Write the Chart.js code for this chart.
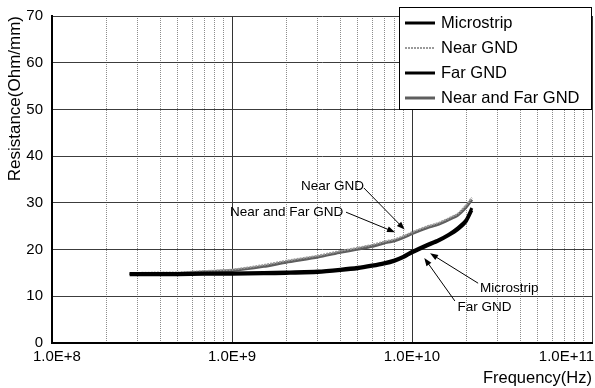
<!DOCTYPE html>
<html>
<head>
<meta charset="utf-8">
<script src="https://cdn.jsdelivr.net/npm/chart.js@4.4.1/dist/chart.umd.min.js"></script>
<style>
  html, body { margin: 0; padding: 0; background: #fff; overflow: hidden; }
  #wrap { position: relative; width: 595px; height: 388px; }
</style>
</head>
<body>
<div id="wrap"><canvas id="resistanceChart"></canvas></div>
<script>
// Measured frequency points (Hz), shared by all four traces
const frequencies = [
  2.7e8, 3e8, 4e8, 5e8, 7e8, 1e9, 1.5e9, 2e9, 3e9, 4e9, 5e9,
  6e9, 7e9, 8e9, 9e9, 1e10, 1.2e10, 1.4e10, 1.6e10, 1.8e10, 2e10, 2.15e10,
];

// Resistance per unit length (Ohm/mm)
const microstrip = [
  14.9, 14.9, 14.9, 14.9, 15.0, 15.0, 15.1, 15.2, 15.4, 15.8, 16.2,
  16.7, 17.2, 17.8, 18.6, 19.6, 21.0, 22.1, 23.3, 24.7, 26.4, 28.9,
];
const nearGnd = [
  15.0, 15.0, 15.1, 15.1, 15.4, 15.7, 16.7, 17.6, 18.7, 19.7, 20.4,
  21.0, 21.7, 22.2, 22.9, 23.7, 24.9, 25.7, 26.7, 27.7, 29.5, 31.1,
];
const farGnd = [
  14.6, 14.6, 14.6, 14.6, 14.7, 14.7, 14.8, 14.9, 15.1, 15.5, 15.9,
  16.4, 16.9, 17.5, 18.3, 19.3, 20.7, 21.8, 23.0, 24.3, 26.0, 28.4,
];
const nearFarGnd = [
  14.8, 14.8, 14.9, 14.9, 15.2, 15.5, 16.4, 17.3, 18.4, 19.4, 20.1,
  20.7, 21.4, 21.9, 22.6, 23.4, 24.6, 25.4, 26.4, 27.4, 29.1, 30.7,
];

const seriesLabels = ["Microstrip", "Near GND", "Far GND", "Near and Far GND"];

// Axis ticks
const decadeValues = [1e8, 1e9, 1e10, 1e11];
const decadeLabels = ["1.0E+8", "1.0E+9", "1.0E+10", "1.0E+11"];
const minorSteps = [2, 3, 4, 5, 6, 7, 8, 9];
const yTicks = [0, 10, 20, 30, 40, 50, 60, 70];

// Callout labels with arrows, in data units (Hz, Ohm/mm)
const callouts = [
  { text: "Near GND", x: 2.42e9, y: 33.6, fromX: 5.4e9, fromY: 33.2, toX: 9.1e9, toY: 24.3 },
  { text: "Near and Far GND", x: 9.75e8, y: 28.0, fromX: 4.3e9, fromY: 28.0, toX: 8.05e9, toY: 23.7 },
  { text: "Microstrip", x: 2.39e10, y: 11.8, fromX: 2.33e10, fromY: 12.8, toX: 1.26e10, toY: 19.2 },
  { text: "Far GND", x: 1.79e10, y: 7.6, fromX: 1.73e10, fromY: 9.0, toX: 1.17e10, toY: 18.2 },
];

const FONT_FAMILY = '"Liberation Sans", Arial, sans-serif';

const xTickValues = [];
decadeValues.forEach((d, i) => {
  xTickValues.push(d);
  if (i < decadeValues.length - 1) minorSteps.forEach((m) => xTickValues.push(m * d));
});

function isDecade(v) {
  const l = Math.log10(v);
  return Math.abs(l - Math.round(l)) < 1e-9;
}

function toPoints(values) {
  return frequencies.map((f, i) => ({ x: f, y: values[i] }));
}

function drawArrow(ctx, x1, y1, x2, y2) {
  const ang = Math.atan2(y2 - y1, x2 - x1);
  const len = 8;
  const half = 3;
  ctx.beginPath();
  ctx.moveTo(x1, y1);
  ctx.lineTo(x2 - Math.cos(ang) * len * 0.8, y2 - Math.sin(ang) * len * 0.8);
  ctx.stroke();
  ctx.beginPath();
  ctx.moveTo(x2, y2);
  ctx.lineTo(x2 - Math.cos(ang) * len + Math.sin(ang) * half, y2 - Math.sin(ang) * len - Math.cos(ang) * half);
  ctx.lineTo(x2 - Math.cos(ang) * len - Math.sin(ang) * half, y2 - Math.sin(ang) * len + Math.cos(ang) * half);
  ctx.closePath();
  ctx.fill();
}

// Decade labels under the x axis, kept inside the canvas at both ends
const xLabelPlugin = {
  id: "xLabels",
  afterDraw(chart) {
    const { ctx, width } = chart;
    const xs = chart.scales.x;
    ctx.save();
    ctx.fillStyle = "#000";
    ctx.font = "15px " + FONT_FAMILY;
    ctx.textBaseline = "middle";
    ctx.textAlign = "left";
    decadeValues.forEach((v, i) => {
      const w = ctx.measureText(decadeLabels[i]).width;
      let left = xs.getPixelForValue(v) - w / 2;
      left = Math.max(33, Math.min(left, width - 1 - w));
      ctx.fillText(decadeLabels[i], left, xs.bottom - 45 + 14);
    });
    ctx.restore();
  },
};

// Text callouts pointing at the curves
const calloutPlugin = {
  id: "callouts",
  afterDatasetsDraw(chart) {
    const { ctx } = chart;
    const xs = chart.scales.x;
    const ys = chart.scales.y;
    ctx.save();
    ctx.fillStyle = "#000";
    ctx.strokeStyle = "#000";
    ctx.lineWidth = 1;
    ctx.font = "13.5px " + FONT_FAMILY;
    ctx.textBaseline = "middle";
    ctx.textAlign = "left";
    callouts.forEach((c) => {
      ctx.fillText(c.text, xs.getPixelForValue(c.x), ys.getPixelForValue(c.y));
      drawArrow(
        ctx,
        xs.getPixelForValue(c.fromX),
        ys.getPixelForValue(c.fromY),
        xs.getPixelForValue(c.toX),
        ys.getPixelForValue(c.toY),
      );
    });
    ctx.restore();
  },
};

// Boxed legend in the top-right corner
const boxLegendPlugin = {
  id: "boxLegend",
  afterDraw(chart) {
    const { ctx, chartArea } = chart;
    const boxW = 192;
    const boxH = 102;
    const left = chartArea.right - boxW - 1;
    const top = 7;
    ctx.save();
    ctx.fillStyle = "#fff";
    ctx.fillRect(left, top, boxW, boxH);
    ctx.strokeStyle = "#000";
    ctx.lineWidth = 1;
    ctx.strokeRect(left + 0.5, top + 0.5, boxW, boxH);
    ctx.font = "16.5px " + FONT_FAMILY;
    ctx.textBaseline = "middle";
    ctx.fillStyle = "#000";
    chart.data.datasets.forEach((ds, i) => {
      const cy = top + 16 + i * 25;
      ctx.strokeStyle = ds.borderColor;
      ctx.lineWidth = ds.borderWidth;
      ctx.setLineDash(ds.borderDash || []);
      ctx.beginPath();
      ctx.moveTo(left + 6, cy);
      ctx.lineTo(left + 36, cy);
      ctx.stroke();
      ctx.setLineDash([]);
      ctx.fillText(ds.label, left + 42, cy);
    });
    ctx.restore();
  },
};

new Chart(document.getElementById("resistanceChart"), {
  type: "line",
  data: {
    datasets: [
      { label: seriesLabels[0], data: toPoints(microstrip), borderColor: "#000000", borderWidth: 3 },
      { label: seriesLabels[1], data: toPoints(nearGnd), borderColor: "#9a9a9a", borderWidth: 2, borderDash: [2, 1] },
      { label: seriesLabels[2], data: toPoints(farGnd), borderColor: "#000000", borderWidth: 3 },
      { label: seriesLabels[3], data: toPoints(nearFarGnd), borderColor: "#5e5e5e", borderWidth: 3 },
    ],
  },
  options: {
    responsive: true,
    maintainAspectRatio: false,
    animation: false,
    events: [],
    elements: {
      point: { radius: 0 },
      line: { tension: 0.2, fill: false },
    },
    layout: { padding: { top: 16, right: 3, bottom: 0, left: 0 } },
    plugins: {
      legend: { display: false },
      tooltip: { enabled: false },
    },
    scales: {
      x: {
        type: "logarithmic",
        min: 1e8,
        max: 1e11,
        afterBuildTicks: (s) => {
          s.ticks = xTickValues.map((v) => ({ value: v, major: isDecade(v) }));
        },
        afterFit: (s) => {
          s.height = 45;
          s.paddingLeft = 0;
          s.paddingRight = 0;
        },
        ticks: { display: false, autoSkip: false },
        grid: {
          color: (c) => (c.tick && c.tick.major ? "#333" : "#8c8c8c"),
          lineWidth: 1,
          drawTicks: false,
        },
        border: {
          color: "#000",
          width: 2,
          dash: (c) => (c.tick && !c.tick.major ? [1, 1] : []),
        },
        title: {
          display: true,
          text: "Frequency(Hz)",
          align: "end",
          color: "#000",
          padding: 0,
          font: { family: FONT_FAMILY, size: 16.5 },
        },
      },
      y: {
        min: 0,
        max: 70,
        afterBuildTicks: (s) => {
          s.ticks = yTicks.map((v) => ({ value: v }));
        },
        afterFit: (s) => {
          s.width = 52;
          s.paddingTop = 0;
          s.paddingBottom = 0;
        },
        ticks: {
          padding: 9,
          color: "#000",
          font: { family: FONT_FAMILY, size: 15 },
        },
        grid: { color: "#3c3c3c", lineWidth: 1, drawTicks: false },
        border: { color: "#000", width: 2 },
        title: {
          display: true,
          text: "Resistance(Ohm/mm)",
          align: "end",
          color: "#000",
          padding: { top: 5, bottom: 0 },
          font: { family: FONT_FAMILY, size: 17 },
        },
      },
    },
  },
  plugins: [calloutPlugin, xLabelPlugin, boxLegendPlugin],
});
</script>
</body>
</html>
